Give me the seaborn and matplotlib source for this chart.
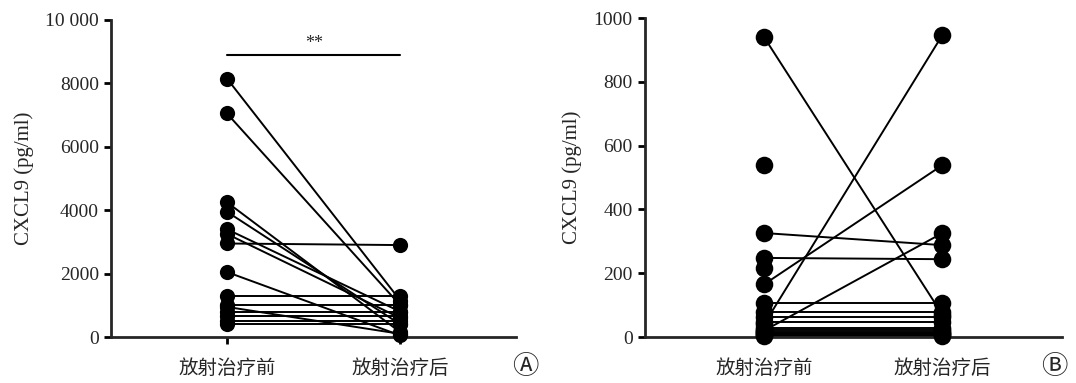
import numpy as np
import pandas as pd
import seaborn as sns
import matplotlib
matplotlib.use('Agg')
import matplotlib.pyplot as plt
from matplotlib.ticker import FuncFormatter

# 分组
groups = ['放射治疗前', '放射治疗后']

# A: CXCL9 (pg/ml)
pre_a = [8150, 7050, 4250, 3950, 3400, 3250, 2950, 2050, 1300, 1000, 950, 800, 650, 500, 400]
post_a = [1150, 1000, 150, 400, 800, 600, 2900, 50, 1300, 1000, 100, 800, 650, 500, 400]

# B
pre_b = [940, 539, 326, 248, 216, 165, 40, 20, 107, 78, 63, 47, 28, 22, 16, 12, 8, 5, 3]
post_b = [70, np.nan, 288, 244, np.nan, 539, 947, 326, 107, 78, 63, 47, 28, 22, 16, 12, 8, 5, 3]

sns.set_style('white')
plt.rcParams['font.family'] = ['Liberation Serif', 'Noto Sans CJK SC']
cjk = ['Noto Sans CJK SC', 'DejaVu Sans']
circ = ['Noto Sans CJK SC', 'Noto Sans', 'DejaVu Sans']


def long_df(pre, post):
    n = len(pre)
    return pd.DataFrame({
        'subject': list(range(n)) * 2,
        'group': [groups[0]] * n + [groups[1]] * n,
        'val': list(pre) + list(post),
    }).dropna()


def draw(ax, pre, post, ms):
    df = long_df(pre, post)
    sns.lineplot(data=df, x='group', y='val', units='subject', estimator=None,
                 color='black', lw=1.4, ax=ax, legend=False)
    sns.scatterplot(data=df, x='group', y='val', color='black', s=ms, linewidth=0,
                    ax=ax, legend=False, zorder=3, clip_on=False)
    ax.set_xlim(-0.67, 1.67)
    ax.set_xlabel('')
    ax.set_ylabel('CXCL9 (pg/ml)', fontsize=15, labelpad=8)
    for s in ['top', 'right']:
        ax.spines[s].set_visible(False)
    for s in ['left', 'bottom']:
        ax.spines[s].set_linewidth(2)
    ax.tick_params(axis='both', direction='out', length=5, width=2, color='black',
                   left=True, bottom=True, labelsize=14)
    ax.set_xticks([0, 1])
    ax.set_xticklabels(groups, fontfamily=cjk, fontsize=14)
    ax.tick_params(axis='x', pad=10)


fig = plt.figure(figsize=(10.76, 3.83), dpi=100)
ax1 = fig.add_axes([0.103, 0.120, 0.377, 0.828])
ax2 = fig.add_axes([0.599, 0.120, 0.388, 0.833])

draw(ax1, pre_a, post_a, 120)
ax1.set_ylim(0, 10000)
ax1.set_yticks(range(0, 10001, 2000))
ax1.yaxis.set_major_formatter(FuncFormatter(lambda v, p: '10 000' if v == 10000 else f'{int(v)}'))
# 显著性标记
ax1.plot([0, 1], [8900, 8900], color='black', lw=1.5)
ax1.text(0.5, 9000, '**', ha='center', va='bottom', fontsize=13)

draw(ax2, pre_b, post_b, 160)
ax2.set_ylim(0, 1000)
ax2.set_yticks(range(0, 1001, 200))

fig.text(0.488, 0.042, 'Ⓐ', fontsize=19, fontfamily=circ, ha='center', va='center')
fig.text(0.992, 0.042, 'Ⓑ', fontsize=19, fontfamily=circ, ha='right', va='center')

fig.savefig('out.png', dpi=100)
